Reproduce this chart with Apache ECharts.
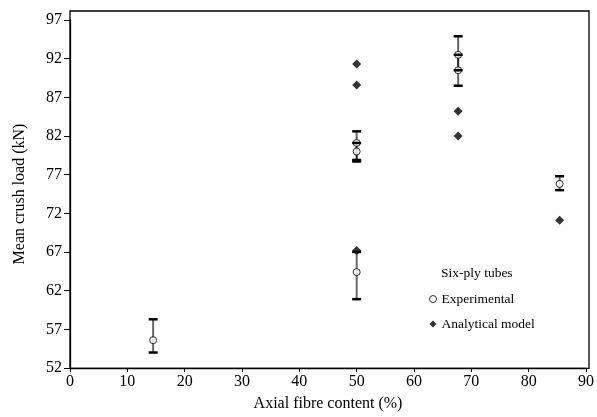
<!DOCTYPE html>
<html><head><meta charset="utf-8">
<script src="https://cdn.jsdelivr.net/npm/echarts@6/dist/echarts.min.js"></script>
<style>html,body{margin:0;padding:0;background:#fff}#c{width:597px;height:417px}</style>
</head><body><div id="c"></div>
<script>
// Experimental (six-ply tubes): fibre content, mean load, error low, error high
const expX    = [14.5, 50.0, 50.0, 50.0, 67.7, 67.7, 85.4];
const expY    = [55.6, 64.4, 80.0, 81.1, 90.5, 92.5, 75.8];
const expLow  = [54.0, 60.9, 78.7, 78.9, 88.5, 90.5, 75.0];
const expHigh = [58.3, 67.0, 81.1, 82.6, 92.5, 94.9, 76.8];
// Analytical model
const anaX = [50.0, 50.0, 50.0, 67.7, 67.7, 85.4];
const anaY = [91.3, 88.6, 67.2, 85.2, 82.0, 71.1];
const xTicks = [0, 10, 20, 30, 40, 50, 60, 70, 80, 90];
const yTicks = [52, 57, 62, 67, 72, 77, 82, 87, 92, 97];

const FONT = '"Liberation Serif", "Times New Roman", serif';
const expData = expX.map((x, i) => [x, expY[i]]);
const anaData = anaX.map((x, i) => [x, anaY[i]]);
const errData = expX.map((x, i) => [x, expLow[i], expHigh[i]]);

const chart = echarts.init(document.getElementById('c'), null, {renderer: 'canvas'});
chart.setOption({
  animation: false,
  backgroundColor: '#fff',
  title: {
    text: 'Six-ply tubes', left: 441, top: 266, padding: 0,
    textStyle: {fontFamily: FONT, fontSize: 13.5, fontWeight: 'normal', color: '#000'}
  },
  legend: {
    data: [
      {name: 'Experimental', icon: 'circle', itemStyle: {color: '#fff', borderColor: '#000', borderWidth: 1}},
      {name: 'Analytical model', icon: 'diamond', itemStyle: {color: '#000'}}
    ],
    orient: 'vertical', left: 429, top: 292, padding: 0,
    itemWidth: 7, itemHeight: 7, itemGap: 11,
    textStyle: {fontFamily: FONT, fontSize: 13.5, color: '#000'}
  },
  grid: [
    {left: 70, right: 8, top: 11, bottom: 48.7, show: true, borderColor: '#000', borderWidth: 1.3, backgroundColor: 'transparent'},
    {left: 70, right: 8, top: 20, bottom: 48.7}
  ],
  xAxis: [
    {gridIndex: 0, type: 'value', min: 0, max: 90, show: false},
    {gridIndex: 1, type: 'value', min: xTicks[0], max: xTicks[xTicks.length - 1], interval: 10,
     name: 'Axial fibre content (%)', nameLocation: 'middle', nameGap: 28,
     nameTextStyle: {fontFamily: FONT, fontSize: 16, color: '#000'},
     axisLine: {lineStyle: {color: '#000', width: 1.3}},
     axisTick: {show: true, length: 4, lineStyle: {color: '#000'}},
     axisLabel: {fontFamily: FONT, fontSize: 16, color: '#000', margin: 6},
     splitLine: {show: false}}
  ],
  yAxis: [
    {gridIndex: 0, type: 'value', min: 0, max: 1, show: false},
    {gridIndex: 1, type: 'value', min: yTicks[0], max: yTicks[yTicks.length - 1], interval: 5,
     name: 'Mean crush load (kN)', nameLocation: 'middle', nameGap: 42,
     nameTextStyle: {fontFamily: FONT, fontSize: 16, color: '#000'},
     axisLine: {lineStyle: {color: '#000', width: 1.3}},
     axisTick: {show: true, length: 6, lineStyle: {color: '#000'}},
     axisLabel: {fontFamily: FONT, fontSize: 16, color: '#000', margin: 8},
     splitLine: {show: false}}
  ],
  series: [
    {
      type: 'custom', xAxisIndex: 1, yAxisIndex: 1, z: 1, silent: true,
      encode: {x: 0, y: [1, 2]},
      data: errData,
      renderItem: function (params, api) {
        const p1 = api.coord([api.value(0), api.value(1)]);
        const p2 = api.coord([api.value(0), api.value(2)]);
        return {type: 'line', shape: {x1: p1[0], y1: p1[1], x2: p2[0], y2: p2[1]},
                style: {stroke: 'rgba(0,0,0,0.6)', lineWidth: 2}};
      }
    },
    {
      name: 'Experimental', type: 'scatter', xAxisIndex: 1, yAxisIndex: 1, z: 2,
      symbol: 'circle', symbolSize: 7,
      itemStyle: {color: '#fff', borderColor: '#000', borderWidth: 1},
      data: expData
    },
    {
      type: 'custom', xAxisIndex: 1, yAxisIndex: 1, z: 3, silent: true,
      encode: {x: 0, y: [1, 2]},
      data: errData,
      renderItem: function (params, api) {
        const p1 = api.coord([api.value(0), api.value(1)]);
        const p2 = api.coord([api.value(0), api.value(2)]);
        const w = 4.5;
        return {type: 'group', children: [
          {type: 'line', shape: {x1: p1[0] - w, y1: p1[1], x2: p1[0] + w, y2: p1[1]}, style: {stroke: '#000', lineWidth: 2.5}},
          {type: 'line', shape: {x1: p2[0] - w, y1: p2[1], x2: p2[0] + w, y2: p2[1]}, style: {stroke: '#000', lineWidth: 2.5}}
        ]};
      }
    },
    {
      name: 'Analytical model', type: 'scatter', xAxisIndex: 1, yAxisIndex: 1, z: 4,
      symbol: 'diamond', symbolSize: 9,
      itemStyle: {color: '#000'},
      data: anaData
    }
  ]
});
</script>
</body></html>
